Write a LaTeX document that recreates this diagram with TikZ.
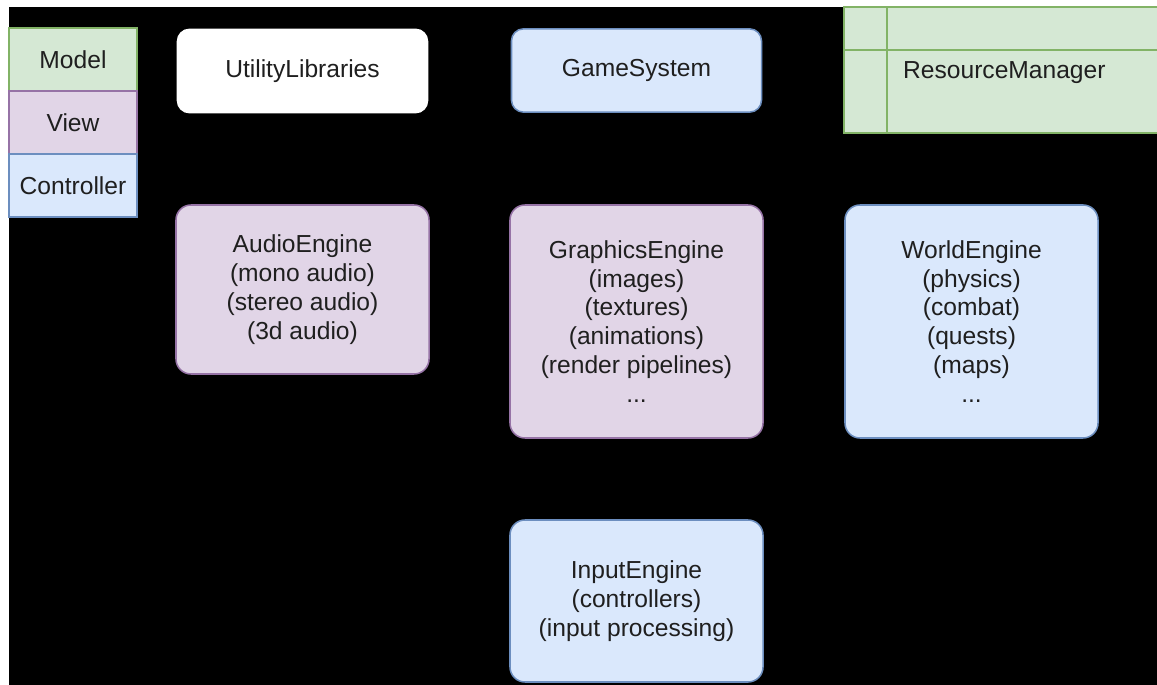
\documentclass[tikz,border=0pt]{standalone}
\usepackage{fontspec}
\setmainfont{Liberation Sans}
\definecolor{mgreen}{HTML}{D5E8D4}
\definecolor{mgreenline}{HTML}{82B366}
\definecolor{vpurple}{HTML}{E1D5E7}
\definecolor{vpurpleline}{HTML}{9673A6}
\definecolor{cblue}{HTML}{DAE8FC}
\definecolor{cblueline}{HTML}{6C8EBF}
\begin{document}
\begin{tikzpicture}[
    x=0.03cm, y=-0.03cm,
    box/.style={draw,line width=1.3pt,text=black!88,align=center,inner sep=0pt,
        font=\fontsize{21}{24.7}\selectfont},
    greenbox/.style={box,fill=mgreen,draw=mgreenline},
    purplebox/.style={box,fill=vpurple,draw=vpurpleline},
    bluebox/.style={box,fill=cblue,draw=cblueline},
    legend/.style={minimum width=3.84cm,minimum height=1.89cm},
    topbox/.style={rounded corners=0.36cm,minimum width=7.5cm,minimum height=2.5cm},
    engine/.style={rounded corners=0.45cm,minimum width=7.59cm}
]
    % page and dark canvas
    \clip (0,0) rectangle (1157,685);
    \fill[white] (0,0) rectangle (1157,685);
    \fill[black] (9,7) rectangle (1157,685);

    % MVC legend
    \node[greenbox,legend] (model) at (73,59.5) {Model};
    \node[purplebox,legend] (view) at (73,122.5) {View};
    \node[bluebox,legend] (ctrl) at (73,185.5) {Controller};

    % top row
    \node[box,topbox,fill=white,draw=white] (util) at (302.5,71) {UtilityLibraries};
    \node[bluebox,topbox] (game) at (636.5,70.5) {GameSystem};

    % resource manager (runs off the right edge)
    \draw[mgreenline,fill=mgreen,line width=1.3pt] (844,7) rectangle (1170,133);
    \draw[mgreenline,line width=1.3pt] (887,7) -- (887,133);
    \draw[mgreenline,line width=1.3pt] (844,50) -- (1170,50);
    \node[anchor=west,text=black!88,font=\fontsize{21}{24.7}\selectfont] (res) at (899,73) {ResourceManager};

    % engines
    \node[purplebox,engine,minimum height=5.07cm] (audio) at (302.5,289.5)
        {AudioEngine\\(mono audio)\\(stereo audio)\\(3d audio)};
    \node[purplebox,engine,minimum height=6.99cm] (gfx) at (636.5,321.5)
        {GraphicsEngine\\(images)\\(textures)\\(animations)\\(render pipelines)\\...};
    \node[bluebox,engine,minimum height=6.99cm] (world) at (971.5,321.5)
        {WorldEngine\\(physics)\\(combat)\\(quests)\\(maps)\\...};
    \node[bluebox,engine,minimum height=4.86cm] (input) at (636.5,601)
        {InputEngine\\(controllers)\\(input processing)};
\end{tikzpicture}
\end{document}
